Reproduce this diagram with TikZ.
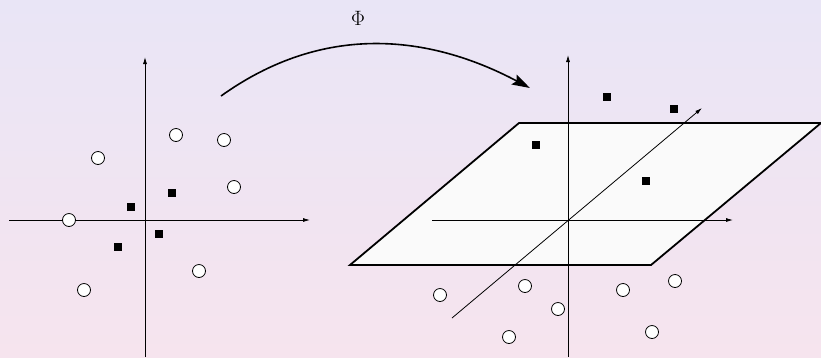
\documentclass[tikz,border=0pt]{standalone}
\usetikzlibrary{arrows.meta}
\definecolor{bgtop}{RGB}{233,229,246}
\definecolor{bgbot}{RGB}{246,228,238}
\definecolor{planefill}{RGB}{250,250,250}
\tikzset{
  pt/.style={circle,draw=black,fill=white,line width=0.8pt,minimum size=13pt,inner sep=0pt},
  sq/.style={rectangle,fill=black,minimum size=8.5pt,inner sep=0pt},
  axis/.style={line width=0.8pt,-{Latex[length=7pt,width=4pt]}},
  plane/.style={draw=black,fill=planefill,line width=1.8pt,line join=miter},
  maparrow/.style={line width=1.6pt,-{Stealth[length=18pt,width=11pt,inset=3pt]}}
}
\begin{document}
\begin{tikzpicture}[x=1pt,y=-1pt]
\shade[top color=bgtop,bottom color=bgbot] (0,0) rectangle (821,357);
\useasboundingbox (0,0) rectangle (821,357);
% left panel axes
\coordinate (lxa) at (9,220);
\coordinate (lxb) at (310,220);
\coordinate (lya) at (145,357);
\coordinate (lyb) at (145,57);
\draw[axis] (lxa) -- (lxb);
\draw[axis] (lya) -- (lyb);
% left panel points
\node[pt] (c1) at (98,158) {};
\node[pt] (c2) at (176,135) {};
\node[pt] (c3) at (224,140) {};
\node[pt] (c4) at (234,187) {};
\node[pt] (c5) at (69,220) {};
\node[pt] (c6) at (199,271) {};
\node[pt] (c7) at (84,290) {};
\node[sq] (s1) at (131,207) {};
\node[sq] (s2) at (172,193) {};
\node[sq] (s3) at (159,234) {};
\node[sq] (s4) at (118,247) {};
% mapping arrow
\coordinate (ma) at (221,96);
\coordinate (mb) at (530,88);
\draw[maparrow] (ma) .. controls (323,23) and (428,34) .. (mb);
\node[font=\fontsize{21}{24}\selectfont] (phi) at (358,18) {$\Phi$};
% right panel plane
\coordinate (p1) at (519,123);
\coordinate (p2) at (821,123);
\coordinate (p3) at (651,265);
\coordinate (p4) at (350,265);
\draw[plane] (p1) -- (p2) -- (p3) -- (p4) -- cycle;
% right panel axes
\coordinate (rxa) at (432,220);
\coordinate (rxb) at (733,220);
\coordinate (rya) at (568,357);
\coordinate (ryb) at (568,55);
\coordinate (rza) at (452,318);
\coordinate (rzb) at (702,108);
\draw[axis] (rxa) -- (rxb);
\draw[axis] (rya) -- (ryb);
\draw[axis] (rza) -- (rzb);
% right panel points
\node[sq] (t1) at (607,97) {};
\node[sq] (t2) at (674,109) {};
\node[sq] (t3) at (536,145) {};
\node[sq] (t4) at (646,181) {};
\node[pt] (d1) at (440,295) {};
\node[pt] (d2) at (525,286) {};
\node[pt] (d3) at (558,309) {};
\node[pt] (d4) at (509,337) {};
\node[pt] (d5) at (623,290) {};
\node[pt] (d6) at (675,281) {};
\node[pt] (d7) at (652,332) {};
\end{tikzpicture}
\end{document}
